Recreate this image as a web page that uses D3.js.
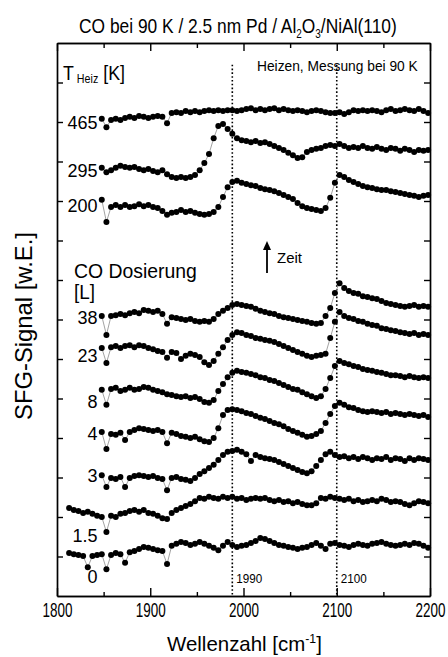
<!DOCTYPE html>
<html>
<head>
<meta charset="utf-8">
<script src="https://cdn.jsdelivr.net/npm/d3@7"></script>
<style>
  html, body { margin: 0; padding: 0; background: #fff; }
  svg text { font-family: "Liberation Sans", Arial, Helvetica, sans-serif; fill: #000; }
</style>
</head>
<body>
<div id="chart"></div>
<script>
// wavenumber grids [cm^-1]
const wnLate = [1848,1853,1858,1863,1868,1873,1878,1883,1888,1893,1898,1903,1908,1913,1918,1923,1928,1933,1938,1943,
  1948,1953,1958,1963,1968,1973,1978,1983,1988,1993,1998,2003,2008,2013,2018,2023,2028,2033,2038,2043,
  2048,2053,2058,2063,2068,2073,2078,2083,2088,2093,2098,2103,2108,2113,2118,2123,2128,2133,2138,2143,
  2148,2153,2158,2163,2168,2173,2178,2183,2188,2193,2198];
const wnEarly = [1813,1818,1823,1828,1833,1838,1843].concat(wnLate);

// SFG signal (arb. units, traces already offset)
const s465 = [120.8,118.7,120.5,120.8,120.5,121.0,121.3,121.0,121.5,121.3,
  121.0,121.3,121.5,121.3,119.7,122.3,122.5,122.3,122.8,122.5,
  122.8,122.5,122.8,123.0,122.8,123.0,122.8,123.0,123.0,122.8,
  123.0,123.3,123.5,123.0,123.3,123.0,123.3,123.5,123.0,123.3,
  123.0,122.8,123.0,122.8,122.5,122.8,123.0,122.8,122.5,122.3,
  122.3,122.5,122.0,122.5,123.0,122.8,123.0,122.8,123.0,122.8,
  122.5,123.0,123.3,122.8,123.0,123.3,123.0,122.8,123.3,122.8,
  122.3];
const s295 = [108.4,107.3,107.8,108.4,108.9,108.6,108.4,108.6,108.1,107.8,
  108.1,107.6,107.3,107.8,106.8,106.1,105.8,106.1,105.8,106.1,
  106.6,107.8,109.6,111.9,115.9,119.0,119.5,118.2,117.0,115.9,
  115.4,115.2,114.9,115.2,114.7,114.9,114.4,113.9,113.4,112.9,
  112.2,111.6,110.9,111.1,112.4,112.9,113.2,113.4,113.9,114.2,
  113.9,114.4,113.9,113.4,113.7,113.4,113.9,113.4,113.2,113.7,
  113.2,112.9,113.4,113.2,112.7,113.2,112.9,112.4,112.9,112.7,
  112.9];
const s200 = [100.3,94.7,98.5,99.0,98.5,99.0,98.5,98.7,99.2,98.7,
  99.0,98.5,98.2,97.5,96.5,97.0,97.2,97.7,97.2,97.5,
  97.0,96.7,96.5,96.7,97.2,98.5,101.0,103.5,104.8,105.1,
  104.6,104.3,104.0,103.8,103.3,103.0,102.8,102.5,102.0,101.5,
  101.0,100.5,99.5,98.7,98.2,98.0,97.7,97.5,98.2,100.8,
  104.6,106.6,106.1,105.3,104.8,104.3,103.8,103.5,103.3,103.0,
  102.8,102.8,102.5,102.3,102.0,101.8,101.5,101.3,101.0,101.3,
  101.5];
const s38 = [70.9,66.1,70.9,71.1,71.4,71.1,71.6,71.9,71.6,72.4,
  72.2,71.9,72.2,71.4,68.9,70.6,70.4,70.1,69.9,70.1,
  69.6,69.4,69.6,69.4,70.1,71.4,72.2,72.9,73.7,73.9,
  73.7,73.4,73.2,72.7,72.2,71.9,71.6,71.4,70.9,70.6,
  70.4,70.1,69.9,69.6,69.4,69.1,68.9,69.1,70.9,72.9,
  76.7,79.2,78.0,77.2,76.7,76.5,75.9,75.7,75.4,75.2,
  74.7,74.2,73.9,73.7,73.4,73.2,73.4,73.7,73.2,73.4,
  73.2];
const s23 = [62.8,59.0,63.0,63.3,62.8,63.3,63.5,63.0,63.5,63.3,
  62.8,62.5,62.0,61.8,60.3,61.8,61.5,60.0,60.8,61.3,
  61.0,60.5,59.2,58.5,59.5,61.3,63.0,64.8,66.1,66.8,
  66.6,66.1,65.8,65.3,65.1,64.8,64.6,64.3,63.8,63.3,
  62.8,62.3,61.8,61.3,60.8,60.5,60.8,61.0,61.3,65.3,
  69.4,71.9,70.9,70.4,70.1,69.6,69.4,68.9,68.6,68.4,
  67.8,67.6,67.3,67.1,66.8,66.6,66.3,66.6,66.1,66.3,
  66.1];
const s8 = [52.2,48.4,52.4,52.7,51.9,52.2,52.7,52.2,52.4,52.9,
  52.7,52.2,51.9,51.6,51.1,50.9,50.6,50.4,50.6,50.1,
  50.4,49.9,49.1,48.9,49.6,51.9,53.7,55.4,56.5,57.0,
  56.7,56.5,56.2,55.9,55.4,55.2,54.7,54.4,53.9,53.4,
  52.9,52.4,52.2,51.6,51.1,50.6,50.1,50.6,52.4,55.2,
  58.2,59.5,59.0,58.7,58.2,58.0,57.5,57.2,57.0,56.7,
  56.5,56.2,55.9,55.9,55.7,55.4,55.7,55.4,55.2,55.4,
  55.2];
const s4 = [41.5,37.2,41.0,40.8,41.3,39.5,41.5,42.0,42.5,42.3,
  42.0,41.8,42.0,41.5,38.7,41.3,41.0,40.5,40.3,40.0,
  40.3,39.7,39.2,39.0,40.0,42.5,45.8,47.1,47.3,47.1,
  46.8,46.3,46.1,45.6,45.1,44.8,44.3,43.8,43.5,43.0,
  42.3,41.8,41.3,40.8,40.3,40.5,41.0,41.8,43.8,46.1,
  48.1,48.9,48.4,47.8,47.6,47.1,46.8,46.6,46.8,46.6,
  46.3,46.6,46.1,46.3,46.1,45.8,46.1,45.8,45.6,45.8,
  45.3];
const s3 = [30.6,27.6,29.9,29.6,30.1,27.6,29.9,30.4,30.6,30.4,
  30.1,30.4,29.9,29.6,26.8,29.9,30.1,29.6,29.4,29.1,
  29.9,30.9,31.6,32.4,33.2,34.4,35.7,36.5,36.7,37.0,
  36.5,35.9,34.2,35.7,35.2,34.9,34.7,34.4,33.9,33.4,
  32.9,32.4,31.9,31.4,31.1,31.6,32.9,34.4,35.9,36.5,
  35.7,35.2,35.4,34.9,35.2,34.7,35.2,34.9,34.4,34.9,
  34.7,35.2,34.4,34.9,34.7,34.2,34.9,34.4,34.9,34.7,
  34.4];
const s1p5 = [22.3,21.8,21.5,21.0,21.3,20.8,20.3,20.0,16.2,20.3,
  20.0,20.8,21.0,21.5,21.8,21.3,21.8,21.0,20.8,20.3,
  19.7,19.5,21.0,21.8,22.3,22.8,23.3,24.0,24.8,24.6,
  25.1,24.8,24.6,25.1,24.8,25.1,24.6,24.8,24.3,24.6,
  24.8,24.6,24.8,24.3,24.0,24.3,23.8,24.0,23.5,23.8,
  23.3,23.0,23.0,23.5,24.8,24.6,25.1,24.8,24.6,24.3,
  24.6,24.0,24.3,23.8,24.0,24.3,24.0,24.6,24.3,23.8,
  24.0,23.8,23.3,23.0,23.5,24.0,23.8,23.5];
const s0 = [10.9,10.6,10.4,10.1,7.3,10.1,10.4,10.6,6.8,10.4,
  10.9,10.6,8.4,11.1,11.4,11.9,12.4,12.2,11.9,11.6,
  11.4,8.1,12.7,13.2,13.7,13.4,12.9,13.2,13.7,13.2,
  12.7,12.2,11.6,12.7,13.7,12.9,12.4,12.7,12.9,13.4,
  13.9,14.7,14.4,13.9,13.4,12.9,12.7,12.4,12.2,11.9,
  12.2,12.4,12.9,13.4,12.7,11.9,13.2,13.4,12.9,12.7,
  12.4,12.9,13.2,12.9,12.7,13.2,13.4,13.7,13.2,12.9,
  12.7,12.9,13.2,12.9,13.4,13.2,12.7,12.2];

const traceLabels = ['465', '295', '200', '38', '23', '8', '4', '3', '1.5', '0'];
const xTicks = [1800, 1900, 2000, 2100, 2200];
const xMinor = [1850, 1950, 2050, 2150];
const yTicks = [10, 20, 30, 40, 50, 60, 70, 80, 90, 100, 110, 120, 130];
const markers = [1988, 2100];
const markerLabels = ['1990', '2100'];

const traces = [
  {label: '465', wn: wnLate, v: s465},
  {label: '295', wn: wnLate, v: s295},
  {label: '200', wn: wnLate, v: s200},
  {label: '38', wn: wnLate, v: s38},
  {label: '23', wn: wnLate, v: s23},
  {label: '8', wn: wnLate, v: s8},
  {label: '4', wn: wnLate, v: s4},
  {label: '3', wn: wnLate, v: s3},
  {label: '1.5', wn: wnEarly, v: s1p5},
  {label: '0', wn: wnEarly, v: s0},
];

// baselines of the trace labels (layout only)
const labelBase = [129, 176.5, 211.5, 323.5, 362, 408, 440, 482, 542, 583];

// squeeze a text horizontally to a given width
function fit(sel, w) {
  const len = sel.node().getComputedTextLength();
  sel.attr('transform', `scale(${w / len},1)`);
  return sel;
}

function place(parent, x, y) {
  return parent.append('g').attr('transform', `translate(${x},${y})`);
}

drawChart();

function drawChart() {
  const width = 448;
  const height = 657;
  const left = 57, right = 430, top = 43, bottom = 596;

  const svg = d3.select('#chart').append('svg')
    .attr('width', width)
    .attr('height', height);

  const x = d3.scaleLinear().domain([1800, 2200]).range([left, right]);
  const y = d3.scaleLinear().domain([0, 140]).range([bottom, top]);

  // dotted marker lines
  svg.append('g').selectAll('line')
    .data(markers)
    .join('line')
    .attr('x1', d => x(d)).attr('x2', d => x(d))
    .attr('y1', y(134.5)).attr('y2', y(0))
    .attr('stroke', '#000')
    .attr('stroke-width', 1.6)
    .attr('stroke-dasharray', '1.6,2.2');

  const line = d3.line()
    .x(d => x(d[0]))
    .y(d => y(d[1]));

  const group = svg.append('g');
  traces.forEach(t => {
    const pts = t.wn.map((w, i) => [w, t.v[i]]);
    const g = group.append('g');
    g.append('path')
      .attr('fill', 'none')
      .attr('stroke', '#8a8a8a')
      .attr('stroke-width', 0.8)
      .attr('d', line(pts));
    g.selectAll('circle')
      .data(pts)
      .join('circle')
      .attr('cx', d => x(d[0]))
      .attr('cy', d => y(d[1]))
      .attr('r', 3)
      .attr('fill', '#000');
  });

  // axes (ticks point inward)
  const axisB = d3.axisBottom(x).tickValues(xTicks).tickSizeInner(-8).tickSizeOuter(0)
    .tickPadding(6).tickFormat(d3.format('d'));
  const gB = svg.append('g').attr('transform', `translate(0,${bottom})`).call(axisB);
  gB.selectAll('text').attr('font-size', 21).attr('font-family', null).each(function() { fit(d3.select(this), 30); });

  svg.append('g').attr('transform', `translate(0,${bottom})`)
    .call(d3.axisBottom(x).tickValues(xMinor).tickSizeInner(-4).tickSizeOuter(0).tickFormat(''));
  svg.append('g').attr('transform', `translate(0,${top})`)
    .call(d3.axisTop(x).tickValues(xTicks).tickSizeInner(-8).tickSizeOuter(0).tickFormat(''));
  svg.append('g').attr('transform', `translate(0,${top})`)
    .call(d3.axisTop(x).tickValues(xMinor).tickSizeInner(-5).tickSizeOuter(0).tickFormat(''));
  svg.append('g').attr('transform', `translate(${left},0)`)
    .call(d3.axisLeft(y).tickValues(yTicks).tickSizeInner(-6).tickSizeOuter(0).tickFormat(''));
  svg.append('g').attr('transform', `translate(${right},0)`)
    .call(d3.axisRight(y).tickValues(yTicks).tickSizeInner(-6).tickSizeOuter(0).tickFormat(''));

  svg.selectAll('.domain').attr('stroke', '#000').attr('stroke-width', 1.7);
  svg.selectAll('.tick line').attr('stroke', '#000').attr('stroke-width', 1.4);

  // trace labels
  traceLabels.forEach((lab, i) => {
    place(svg, 97.5, labelBase[i]).append('text')
      .attr('text-anchor', 'end')
      .attr('font-size', 18)
      .text(lab);
  });

  // title
  const title = place(svg, 79, 33).append('text').attr('font-size', 21);
  title.append('tspan').text('CO bei 90 K / 2.5 nm Pd / Al');
  title.append('tspan').attr('font-size', 12).attr('dy', 5).text('2');
  title.append('tspan').attr('dy', -5).text('O');
  title.append('tspan').attr('font-size', 12).attr('dy', 5).text('3');
  title.append('tspan').attr('dy', -5).text('/NiAl(110)');
  fit(title, 318);

  const theiz = place(svg, 63, 80).append('text').attr('font-size', 20);
  theiz.append('tspan').text('T');
  theiz.append('tspan').attr('font-size', 12).attr('dy', 3).text(' Heiz');
  theiz.append('tspan').attr('dy', -3).text(' [K]');
  fit(theiz, 62);

  fit(place(svg, 257, 70.5).append('text').attr('font-size', 14).text('Heizen, Messung bei 90 K'), 161);
  fit(place(svg, 74, 278).append('text').attr('font-size', 20).text('CO Dosierung'), 123);
  fit(place(svg, 74, 299).append('text').attr('font-size', 20).text('[L]'), 21);

  // time arrow
  svg.append('line')
    .attr('x1', 267).attr('x2', 267)
    .attr('y1', 273).attr('y2', 248)
    .attr('stroke', '#000').attr('stroke-width', 1.8);
  svg.append('path')
    .attr('d', 'M267,241 L263,250 L271,250 Z')
    .attr('fill', '#000');
  fit(place(svg, 277, 263).append('text').attr('font-size', 14).text('Zeit'), 25);

  markers.forEach((m, i) => {
    fit(place(svg, x(m) + 4, 582.5).append('text').attr('font-size', 13).text(markerLabels[i]), 26);
  });

  // axis titles
  const xt = place(svg, 167, 651).append('text').attr('font-size', 20);
  xt.append('tspan').text('Wellenzahl [cm');
  xt.append('tspan').attr('font-size', 12).attr('dy', -8).text('-1');
  xt.append('tspan').attr('dy', 8).text(']');
  fit(xt, 155);

  const yt = svg.append('g').attr('transform', 'translate(32,326) rotate(-90)')
    .append('text')
    .attr('text-anchor', 'middle')
    .attr('font-size', 23)
    .text('SFG-Signal [w.E.]');
  fit(yt, 188);
}
</script>
</body>
</html>
